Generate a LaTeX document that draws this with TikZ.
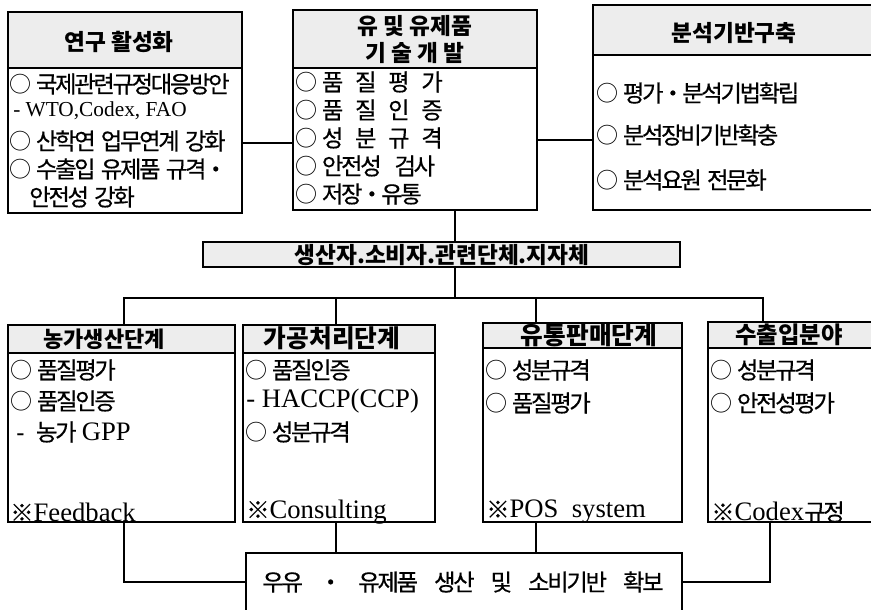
\documentclass[tikz,border=0pt]{standalone}
\usepackage{fontspec}
\setmainfont{Liberation Serif}
\newfontfamily\kr[WordSpace=1.8]{Noto Sans CJK KR}
\newfontfamily\krt[WordSpace=1.8,LetterSpace=-10,FakeBold=0.5]{Noto Sans CJK KR}
\newfontfamily\krc{Noto Sans CJK KR}
\usetikzlibrary{fit}
\newcommand\lat[1]{{\rmfamily\fontsize{20}{22}\selectfont #1}}
\newcommand\lats[1]{{\rmfamily\fontsize{16}{18}\selectfont #1}}
\newcommand\gap{\hspace{0.5em}}
\newcommand\wg{\hspace{12pt}}
\newcommand\ci{\makebox[20pt][l]{\krc\fontsize{16.5}{18}\selectfont ○}}
\tikzset{
  boxline/.style={draw, line width=1.4pt, inner sep=0pt},
  hdrfill/.style={fill=black!7, draw, line width=1.4pt, inner sep=0pt},
  conn/.style={line width=1pt},
  txt/.style={anchor=west, inner sep=0pt, font=\krt\fontsize{17.5}{19}\selectfont},
  htxt/.style={inner sep=0pt, font=\kr\bfseries\fontsize{17}{20}\selectfont},
  hbig/.style={inner sep=0pt, font=\kr\bfseries\fontsize{18.5}{21}\selectfont},
}
\begin{document}
\begin{tikzpicture}[x=0.75pt,y=-0.75pt]
\useasboundingbox (0,0) rectangle (871,610);

% ---- top boxes
\node[hdrfill, fit={(8,12) (242,68)}] (Ah) {};
\node[boxline, fit={(8,12) (242,213)}] (A) {};
\node[hdrfill, fit={(293,10) (537,68)}] (Bh) {};
\node[boxline, fit={(293,10) (537,210)}] (B) {};
\node[hdrfill, fit={(593,5) (890,55)}] (Ch) {};
\node[boxline, fit={(593,5) (890,210)}] (C) {};

% ---- middle bar
\node[hdrfill, fit={(203,242) (680,267)}] (D) {};

% ---- bottom boxes
\node[hdrfill, fit={(8,325) (235,353)}] (Eh) {};
\node[boxline, fit={(8,325) (235,522)}] (E) {};
\node[hdrfill, fit={(243,325) (435,353)}] (Fh) {};
\node[boxline, fit={(243,325) (435,522)}] (F) {};
\node[hdrfill, fit={(483,323) (682,348)}] (Gh) {};
\node[boxline, fit={(483,323) (682,522)}] (G) {};
\node[hdrfill, fit={(708,322) (890,348)}] (Hh) {};
\node[boxline, fit={(708,322) (890,522)}] (H) {};

% ---- final box
\node[boxline, fit={(246,553) (682,630)}] (I) {};

% ---- connectors
\coordinate (bus) at (455,298);
\draw[conn] (A.east |- 0,143) -- (B.west |- 0,143);
\draw[conn] (B.east |- 0,140) -- (C.west |- 0,140);
\draw[conn] (B.south -| bus) -- (D.north -| bus);
\draw[conn] (D.south -| bus) -- (bus);
\draw[conn] (Eh.north -| 124,0) |- (bus) -| (Hh.north -| 763,0);
\draw[conn] (Fh.north -| 336,0) -- (bus -| 336,0);
\draw[conn] (Gh.north -| 536,0) -- (bus -| 536,0);
\draw[conn] (E.south -| 124,0) |- (I.west |- 0,582);
\draw[conn] (F.south -| 336,0) -- (I.north -| 336,0);
\draw[conn] (G.south -| 536,0) -- (I.north -| 536,0);
\draw[conn] (H.south -| 770,0) |- (I.east |- 0,582);

% ---- texts: box A
\node[htxt] (At) at (119,42) {연구 활성화};
\node[txt] (a1) at (9,84) {\ci 국제관련규정대응방안};
\node[txt] (a2) at (13,111) {\lats{- WTO,Codex, FAO}};
\node[txt] (a3) at (9,141) {\ci 산학연 업무연계 강화};
\node[txt] (a4) at (9,169) {\ci 수출입 유제품 규격・};
\node[txt] (a5) at (29,197) {안전성 강화};

% ---- box B
\node[htxt] (Bt1) at (415,26) {유 및 유제품};
\node[htxt] (Bt2) at (415,53) {기 술 개 발};
\node[txt] (b1) at (295,82) {\ci 품\gap 질\gap 평\gap 가};
\node[txt] (b2) at (295,110) {\ci 품\gap 질\gap 인\gap 증};
\node[txt] (b3) at (295,138) {\ci 성\gap 분\gap 규\gap 격};
\node[txt] (b4) at (295,166) {\ci 안전성\hspace{0.55em}검사};
\node[txt] (b5) at (295,194) {\ci 저장・유통};

% ---- box C
\node[htxt] (Ct) at (734,33) {분석기반구축};
\node[txt] (c1) at (596,93) {\ci 평가・분석기법확립};
\node[txt] (c2) at (596,135) {\ci 분석장비기반확충};
\node[txt] (c3) at (596,180) {\ci 분석요원 전문화};

% ---- bar D
\node[htxt] (Dt) at (442,255) {생산자.소비자.관련단체.지자체};

% ---- box E
\node[htxt, font=\kr\bfseries\fontsize{16.5}{20}\selectfont] (Et) at (104,339) {농가생산단계};
\node[txt] (e1) at (10,370) {\ci 품질평가};
\node[txt] (e2) at (10,401) {\ci 품질인증};
\node[txt] (e3) at (16,432) {-\hspace{0.5em}농가 \lat{GPP}};
\node[txt] (e4) at (10,512) {※\lat{Feedback}};

% ---- box F
\node[hbig] (Ft) at (332,338) {가공처리단계};
\node[txt] (f1) at (245,370) {\ci 품질인증};
\node[txt] (f2) at (246,401) {\lat{- HACCP(CCP)}};
\node[txt] (f3) at (245,432) {\ci 성분규격};
\node[txt] (f4) at (246,512) {※\lat{Consulting}};

% ---- box G
\node[hbig] (Gt) at (589,335) {유통판매단계};
\node[txt] (g1) at (485,370) {\ci 성분규격};
\node[txt] (g2) at (485,403) {\ci 품질평가};
\node[txt] (g3) at (486,512) {※\lat{POS\hspace{0.5em}system}};

% ---- box H
\node[htxt, font=\kr\bfseries\fontsize{17.5}{20}\selectfont] (Ht) at (789,335) {수출입분야};
\node[txt] (h1) at (710,370) {\ci 성분규격};
\node[txt] (h2) at (710,403) {\ci 안전성평가};
\node[txt] (h3) at (711,512) {※\lat{Codex}규정};

% ---- final box I
\node[txt, anchor=center] (It) at (463,582) {우유\wg ・\wg 유제품\wg 생산\wg 및\wg 소비기반\wg 확보};
\end{tikzpicture}
\end{document}
